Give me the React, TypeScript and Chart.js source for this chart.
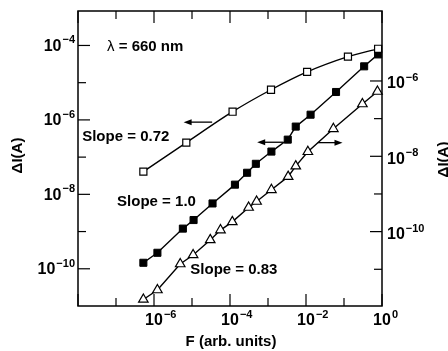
import React, { useEffect, useRef } from 'react';
import { Chart, registerables } from 'chart.js';

Chart.register(...registerables);

// ---- data ----
const OPEN_F = [5.25e-7, 7.08e-6, 1.17e-4, 1.2e-3, 1.07e-2, 0.127, 0.79];
const OPEN_I = [4.07e-8, 2.45e-7, 1.66e-6, 6.46e-6, 1.95e-5, 5.0e-5, 8.13e-5];

const FILLED_F = [5.25e-7, 1.23e-6, 5.75e-6, 1.1e-5, 3.47e-5, 1.35e-4, 2.82e-4, 4.79e-4, 1.23e-3, 3.31e-3, 5.37e-3, 1.32e-2, 6.17e-2, 0.339, 0.79];
const FILLED_I = [1.45e-10, 2.69e-10, 1.2e-9, 2.04e-9, 5.69e-9, 1.82e-8, 3.8e-8, 6.61e-8, 1.41e-7, 2.95e-7, 6.61e-7, 1.38e-6, 5.62e-6, 2.75e-5, 5.75e-5];

const TRI_F = [5.25e-7, 1.23e-6, 4.9e-6, 1.07e-5, 3.02e-5, 5.62e-5, 1.15e-4, 3.09e-4, 5.01e-4, 1.23e-3, 3.39e-3, 5.37e-3, 1.12e-2, 5.25e-2, 0.305, 0.759];
const TRI_I = [1.58e-12, 2.82e-12, 1.38e-11, 2.4e-11, 6.03e-11, 1.1e-10, 1.82e-10, 4.37e-10, 6.31e-10, 1.29e-9, 2.88e-9, 5.5e-9, 1.32e-8, 5.37e-8, 2.45e-7, 5.25e-7];

// ---- axes ----
const X_MIN = 1e-8;
const X_MAX = 1;
const YL_MIN = 1e-11;
const YL_MAX = 8.43e-4;
const YR_MIN = 1.06e-12;
const YR_MAX = 7.21e-5;

const X_TICK_EXP = [-8, -7, -6, -5, -4, -3, -2, -1, 0];
const X_LABEL_EXP = [-6, -4, -2, 0];
const YL_TICK_EXP = [-10, -9, -8, -7, -6, -5, -4];
const YL_LABEL_EXP = [-10, -8, -6, -4];
const YR_TICK_EXP = [-11, -10, -9, -8, -7, -6];
const YR_LABEL_EXP = [-10, -8, -6];

const X_TITLE = 'F (arb. units)';
const Y_TITLE = 'ΔI(A)';

// ---- annotations (data coordinates, left axis) ----
const NOTES = [
  { text: 'Slope = 0.72', f: 1.29e-8, i: 3.47e-7 },
  { text: 'Slope = 1.0', f: 1.07e-7, i: 6.46e-9 },
  { text: 'Slope = 0.83', f: 9.02e-6, i: 9.55e-11 },
];
const LAMBDA_NOTE = { sym: 'λ', text: ' = 660 nm', f: 5.82e-8, i: 9.3e-5 };
const ARROWS = [
  { f1: 3.39e-5, f2: 6.03e-6, i: 8.71e-7 },
  { f1: 2.51e-3, f2: 5.19e-4, i: 2.51e-7 },
  { f1: 2.04e-2, f2: 9.12e-2, i: 2.45e-7 },
];

const FONT = '"Liberation Sans", Arial, Helvetica, sans-serif';

function pow10Label(ctx: CanvasRenderingContext2D, exp: number, x: number, y: number, align: 'right' | 'left' | 'center') {
  const base = '10';
  const sup = exp === 0 ? '0' : '\u2212' + Math.abs(exp);
  ctx.font = `bold 16px ${FONT}`;
  const bw = ctx.measureText(base).width;
  ctx.font = `bold 11px ${FONT}`;
  const sw = ctx.measureText(sup).width;
  let x0 = x;
  if (align === 'right') x0 = x - bw - sw - 1;
  else if (align === 'center') x0 = x - bw / 2;
  ctx.textAlign = 'left';
  ctx.textBaseline = 'middle';
  ctx.font = `bold 16px ${FONT}`;
  ctx.fillText(base, x0, y);
  ctx.font = `bold 11px ${FONT}`;
  ctx.fillText(sup, x0 + bw + 1, y - 6);
}

const framePlugin = {
  id: 'frame',
  afterDraw(chart: any) {
    const { ctx, chartArea: a, scales } = chart;
    const sx = scales.x;
    const sy = scales.y;
    const sr = scales.y2;
    ctx.save();
    ctx.strokeStyle = '#000';
    ctx.fillStyle = '#000';
    ctx.lineWidth = 1.5;
    ctx.strokeRect(a.left, a.top, a.right - a.left, a.bottom - a.top);

    const line = (x1: number, y1: number, x2: number, y2: number) => {
      ctx.beginPath();
      ctx.moveTo(x1, y1);
      ctx.lineTo(x2, y2);
      ctx.stroke();
    };

    ctx.lineWidth = 1.2;
    for (const e of X_TICK_EXP) {
      const px = sx.getPixelForValue(Math.pow(10, e));
      const len = e % 2 === 0 ? 12 : 8;
      line(px, a.bottom, px, a.bottom - len);
      line(px, a.top, px, a.top + len);
    }
    for (const e of YL_TICK_EXP) {
      const py = sy.getPixelForValue(Math.pow(10, e));
      const len = e % 2 === 0 ? 12 : 8;
      line(a.left, py, a.left + len, py);
    }
    for (const e of YR_TICK_EXP) {
      const py = sr.getPixelForValue(Math.pow(10, e));
      const len = e % 2 === 0 ? 12 : 8;
      line(a.right, py, a.right - len, py);
    }

    for (const e of X_LABEL_EXP) {
      pow10Label(ctx, e, sx.getPixelForValue(Math.pow(10, e)), a.bottom + 15, 'center');
    }
    for (const e of YL_LABEL_EXP) {
      pow10Label(ctx, e, a.left - 3, sy.getPixelForValue(Math.pow(10, e)) + 1, 'right');
    }
    for (const e of YR_LABEL_EXP) {
      pow10Label(ctx, e, a.right + 5, sr.getPixelForValue(Math.pow(10, e)) + 3, 'left');
    }

    // axis titles
    ctx.font = `bold 15px ${FONT}`;
    ctx.textAlign = 'center';
    ctx.textBaseline = 'middle';
    ctx.fillText(X_TITLE, (a.left + a.right) / 2 + 1, a.bottom + 36);
    ctx.save();
    ctx.translate(18, (a.top + a.bottom) / 2 - 3);
    ctx.rotate(-Math.PI / 2);
    ctx.fillText(Y_TITLE, 0, 0);
    ctx.restore();
    ctx.save();
    ctx.translate(a.right + 62, (a.top + a.bottom) / 2 + 1);
    ctx.rotate(-Math.PI / 2);
    ctx.fillText(Y_TITLE, 0, 0);
    ctx.restore();

    // annotations
    ctx.textAlign = 'left';
    for (const n of NOTES) {
      ctx.font = `bold 15px ${FONT}`;
      ctx.fillText(n.text, sx.getPixelForValue(n.f), sy.getPixelForValue(n.i));
    }
    {
      const lx = sx.getPixelForValue(LAMBDA_NOTE.f);
      const ly = sy.getPixelForValue(LAMBDA_NOTE.i);
      ctx.font = `15px ${FONT}`;
      ctx.fillText(LAMBDA_NOTE.sym, lx, ly);
      const w = ctx.measureText(LAMBDA_NOTE.sym).width;
      ctx.font = `bold 15px ${FONT}`;
      ctx.fillText(LAMBDA_NOTE.text, lx + w, ly);
    }

    ctx.lineWidth = 1.3;
    for (const ar of ARROWS) {
      const x1 = sx.getPixelForValue(ar.f1);
      const x2 = sx.getPixelForValue(ar.f2);
      const y = sy.getPixelForValue(ar.i);
      const dir = x2 > x1 ? 1 : -1;
      line(x1, y, x2 - dir * 5, y);
      ctx.beginPath();
      ctx.moveTo(x2, y);
      ctx.lineTo(x2 - dir * 8, y - 3);
      ctx.lineTo(x2 - dir * 8, y + 3);
      ctx.closePath();
      ctx.fill();
    }
    ctx.restore();
  },
};

export default function App() {
  const ref = useRef<HTMLCanvasElement | null>(null);

  useEffect(() => {
    if (!ref.current) return;
    const chart = new Chart(ref.current, {
      type: 'scatter',
      data: {
        datasets: [
          {
            label: 'open squares',
            data: OPEN_F.map((f, k) => ({ x: f, y: OPEN_I[k] })),
            yAxisID: 'y',
            showLine: true,
            tension: 0.3,
            borderColor: '#000',
            borderWidth: 1.4,
            pointStyle: 'rect',
            pointRadius: 5,
            pointBorderWidth: 1.2,
            pointBackgroundColor: '#fff',
            pointBorderColor: '#000',
            clip: false,
          },
          {
            label: 'filled squares',
            data: FILLED_F.map((f, k) => ({ x: f, y: FILLED_I[k] })),
            yAxisID: 'y',
            showLine: true,
            tension: 0,
            borderColor: '#000',
            borderWidth: 1.4,
            pointStyle: 'rect',
            pointRadius: 5,
            pointBorderWidth: 1,
            pointBackgroundColor: '#000',
            pointBorderColor: '#000',
            clip: false,
          },
          {
            label: 'open triangles',
            data: TRI_F.map((f, k) => ({ x: f, y: TRI_I[k] })),
            yAxisID: 'y2',
            showLine: true,
            tension: 0,
            borderColor: '#000',
            borderWidth: 1.4,
            pointStyle: 'triangle',
            pointRadius: 5.5,
            pointBorderWidth: 1.2,
            pointBackgroundColor: '#fff',
            pointBorderColor: '#000',
            clip: false,
          },
        ],
      },
      options: {
        animation: false,
        responsive: true,
        maintainAspectRatio: false,
        layout: { padding: { left: 78, right: 66, top: 11, bottom: 45 } },
        plugins: { legend: { display: false }, tooltip: { enabled: false } },
        scales: {
          x: { type: 'logarithmic', min: X_MIN, max: X_MAX, display: false },
          y: { type: 'logarithmic', position: 'left', min: YL_MIN, max: YL_MAX, display: false },
          y2: { type: 'logarithmic', position: 'right', min: YR_MIN, max: YR_MAX, display: false },
        },
      },
      plugins: [framePlugin],
    });
    return () => chart.destroy();
  }, []);

  return (
    <div style={{ position: 'fixed', left: 0, top: 0, width: 448, height: 351, background: '#fff' }}>
      <canvas ref={ref} />
    </div>
  );
}
